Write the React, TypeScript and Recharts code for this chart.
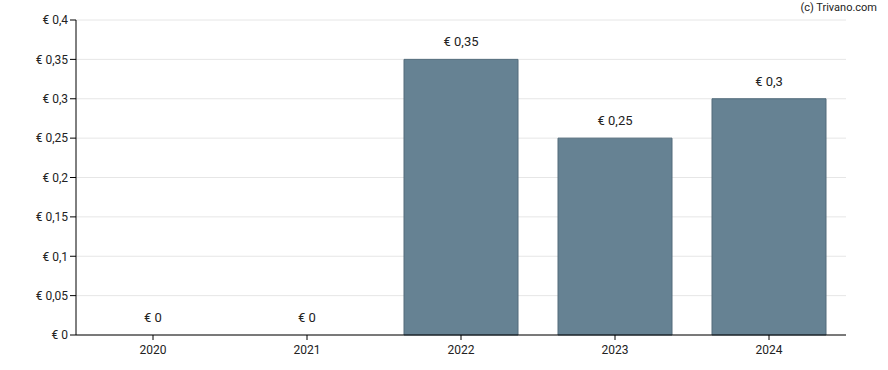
import React from "react";
import { ComposedChart, Bar, Line, XAxis, YAxis, CartesianGrid, LabelList } from "recharts";

const years = ["2020", "2021", "2022", "2023", "2024"];
const dividends = [0, 0, 0.35, 0.25, 0.3];
const yTicks = [0, 0.05, 0.1, 0.15, 0.2, 0.25, 0.3, 0.35, 0.4];

const data = years.map((year, i) => ({ year, value: dividends[i] }));

const euro = (v: number) => "€ " + String(v).replace(".", ",");

const font = "Roboto, 'Liberation Sans', Arial, sans-serif";

export default function App() {
    return (
        <div style={{ position: "absolute", left: 0, top: 0, width: 888, height: 370, background: "#fff", fontFamily: font }}>
            <ComposedChart
                width={888}
                height={370}
                data={data}
                margin={{ top: 20, right: 42, bottom: 5, left: 0 }}
                barCategoryGap={20}
            >
                <CartesianGrid vertical={false} stroke="#e6e6e6" />
                <XAxis
                    dataKey="year"
                    stroke="#000"
                    tickLine={{ stroke: "#000" }}
                    tickSize={5}
                    tickMargin={5}
                    tick={{ fill: "#222", fontSize: 12, fontFamily: font }}
                    height={30}
                />
                <YAxis
                    width={76}
                    domain={[0, 0.4]}
                    ticks={yTicks}
                    interval={0}
                    tickFormatter={euro}
                    stroke="#000"
                    tickSize={6}
                    tickMargin={2}
                    tick={{ fill: "#222", fontSize: 12, fontFamily: font }}
                />
                <Bar dataKey="value" fill="#668293" stroke="#526b7b" isAnimationActive={false} />
                {/* labels via an invisible line so zero values get a label too */}
                <Line dataKey="value" stroke="none" dot={false} activeDot={false} legendType="none" isAnimationActive={false}>
                    <LabelList
                        dataKey="value"
                        position="top"
                        offset={13}
                        formatter={(v: any) => euro(Number(v))}
                        style={{ fill: "#222", fontSize: 13, fontFamily: font }}
                    />
                </Line>
            </ComposedChart>
            <div style={{ position: "absolute", right: 11, top: 1, fontSize: 11, color: "#222" }}>(c) Trivano.com</div>
        </div>
    );
}
